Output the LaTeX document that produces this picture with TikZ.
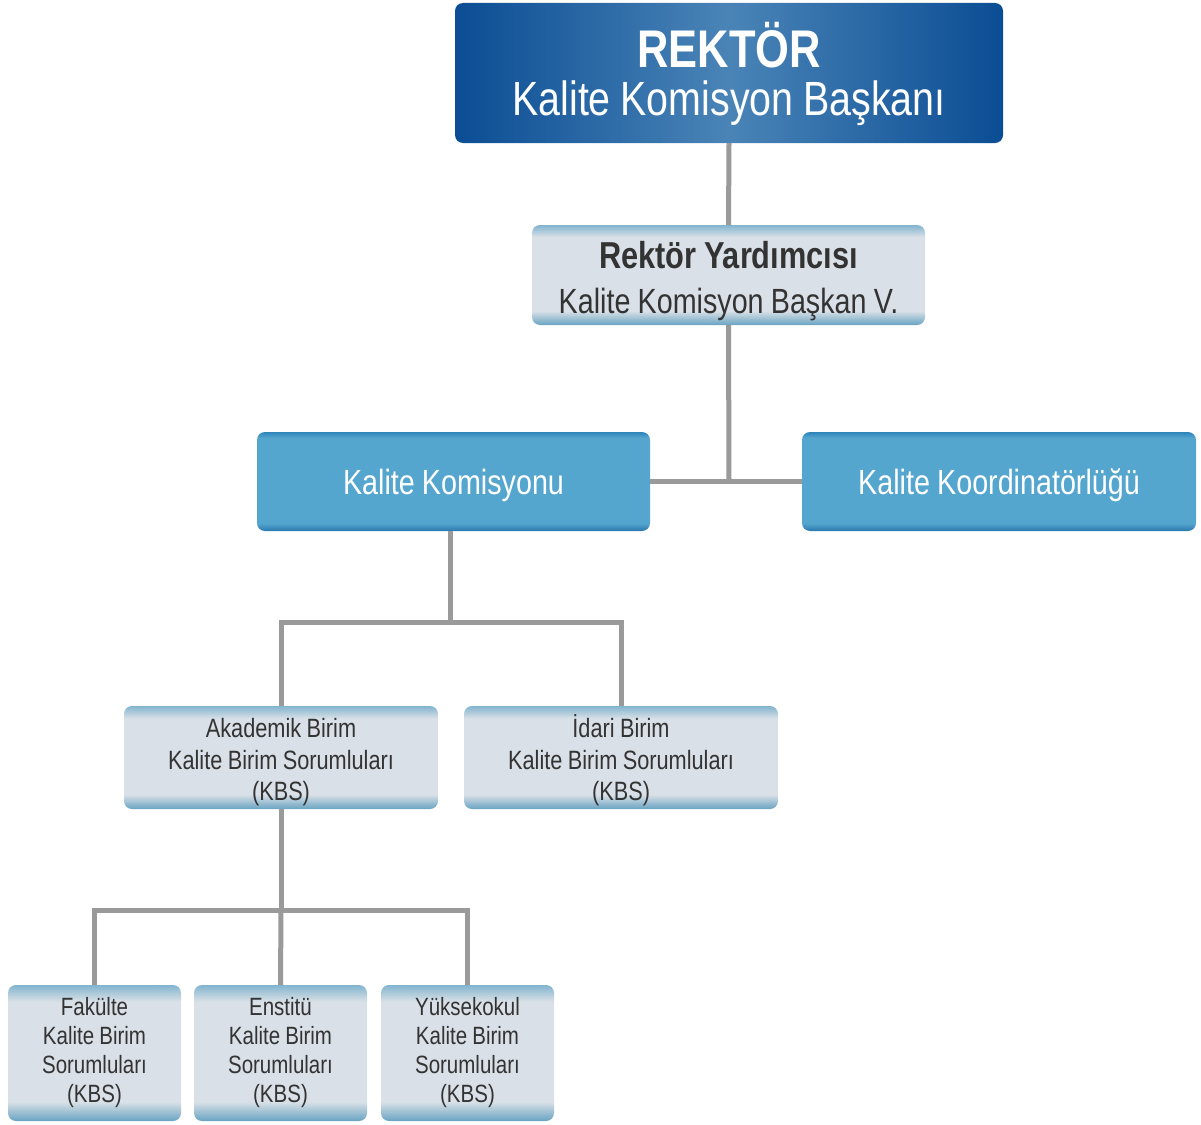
\documentclass[tikz,border=0pt]{standalone}
\usepackage{fontspec}
\setmainfont{Liberation Sans}[FakeStretch=0.82,WordSpace=0.9]
\definecolor{dk}{HTML}{0B4D94}
\definecolor{dkmid}{HTML}{4A84B7}
\definecolor{mtop}{HTML}{2F84BA}
\definecolor{mmid}{HTML}{55A6CE}
\definecolor{mbot}{HTML}{2A78AE}
\definecolor{ltop}{HTML}{82B4CE}
\definecolor{lmid}{HTML}{D9E0E7}
\definecolor{lbot}{HTML}{68A3C2}
\definecolor{conncol}{HTML}{9A9A9A}
\definecolor{darktext}{HTML}{333333}
\pgfdeclarehorizontalshading{darkshade}{100bp}{color(0bp)=(dk); color(25bp)=(dk); color(50bp)=(dkmid); color(75bp)=(dk); color(100bp)=(dk)}
\pgfdeclareverticalshading{medshade}{100bp}{color(0bp)=(mbot); color(25bp)=(mbot); color(29bp)=(mmid); color(72bp)=(mmid); color(75bp)=(mtop); color(100bp)=(mtop)}
\pgfdeclareverticalshading{lightshade}{100bp}{color(0bp)=(lbot); color(25bp)=(lbot); color(32bp)=(lmid); color(69bp)=(lmid); color(75bp)=(ltop); color(100bp)=(ltop)}
\begin{document}
\begin{tikzpicture}[x=1pt,y=-1pt,
  boxbase/.style={rounded corners=8pt, inner sep=0pt},
  darkbox/.style={boxbase, shading=darkshade},
  medbox/.style={boxbase, shading=medshade},
  lightbox/.style={boxbase, shading=lightshade},
  txt/.style={inner sep=0pt, align=center},
  whitetxt/.style={txt, text=white},
  darktxt/.style={txt, text=darktext},
  conn/.style={draw=conncol, line width=5pt}]
\useasboundingbox (0,0) rectangle (1201,1124);
% boxes
\node[darkbox, minimum width=548pt, minimum height=140pt] (rek) at (729,73) {};
\node[lightbox, minimum width=393pt, minimum height=100pt] (ry) at (728.5,275) {};
\node[medbox, minimum width=393pt, minimum height=99pt] (kk) at (453.5,481.5) {};
\node[medbox, minimum width=394pt, minimum height=99pt] (kko) at (999,481.5) {};
\node[lightbox, minimum width=314pt, minimum height=103pt] (ak) at (281,757.5) {};
\node[lightbox, minimum width=314pt, minimum height=103pt] (id) at (621,757.5) {};
\node[lightbox, minimum width=173pt, minimum height=136pt] (fa) at (94.5,1053) {};
\node[lightbox, minimum width=173pt, minimum height=136pt] (en) at (280.5,1053) {};
\node[lightbox, minimum width=173pt, minimum height=136pt] (yu) at (467.5,1053) {};
% texts
\node[whitetxt, font=\fontsize{48}{48}\selectfont] (rekt) at ([yshift=-1pt]rek.center)
  {{\fontsize{53}{48}\selectfont\bfseries REKTÖR}\\Kalite Komisyon Başkanı};
\node[darktxt, font=\fontsize{35}{45}\selectfont] (ryt) at ([yshift=-6pt]ry.center)
  {{\fontsize{37.5}{45}\selectfont\bfseries Rektör Yardımcısı}\\Kalite Komisyon Başkan V.};
\node[whitetxt, font=\fontsize{35}{42}\selectfont] (kkt) at ([yshift=-4pt]kk.center) {Kalite Komisyonu};
\node[whitetxt, font=\fontsize{35}{42}\selectfont] (kkot) at ([yshift=-4pt]kko.center) {Kalite Koordinatörlüğü};
\node[darktxt, font=\fontsize{26.5}{31.5}\selectfont] (akt) at ([yshift=-5pt]ak.center) {Akademik Birim\\Kalite Birim Sorumluları\\(KBS)};
\node[darktxt, font=\fontsize{26.5}{31.5}\selectfont] (idt) at ([yshift=-3pt]id.center) {İdari Birim\\Kalite Birim Sorumluları\\(KBS)};
\node[darktxt, font=\fontsize{25}{29}\selectfont] (fat) at (fa.center) {Fakülte\\Kalite Birim\\Sorumluları\\(KBS)};
\node[darktxt, font=\fontsize{25}{29}\selectfont] (ent) at (en.center) {Enstitü\\Kalite Birim\\Sorumluları\\(KBS)};
\node[darktxt, font=\fontsize{25}{29}\selectfont] (yut) at (yu.center) {Yüksekokul\\Kalite Birim\\Sorumluları\\(KBS)};
% connectors
\coordinate (j0) at (729,482);
\coordinate (j1) at (450,622);
\coordinate (j2) at (281,910);
\draw[conn] (rek.south) -- (ry.north);
\draw[conn] (ry.south) -- (j0);
\draw[conn] (kk.east) -- (kko.west);
\draw[conn] (kk.south -| j1) -- (j1);
\draw[conn] (ak.north) |- (j1) -| (id.north);
\draw[conn] (ak.south) -- (j2);
\draw[conn] (fa.north) |- (j2) -| (yu.north);
\draw[conn] (j2) -- (en.north);
\end{tikzpicture}
\end{document}
